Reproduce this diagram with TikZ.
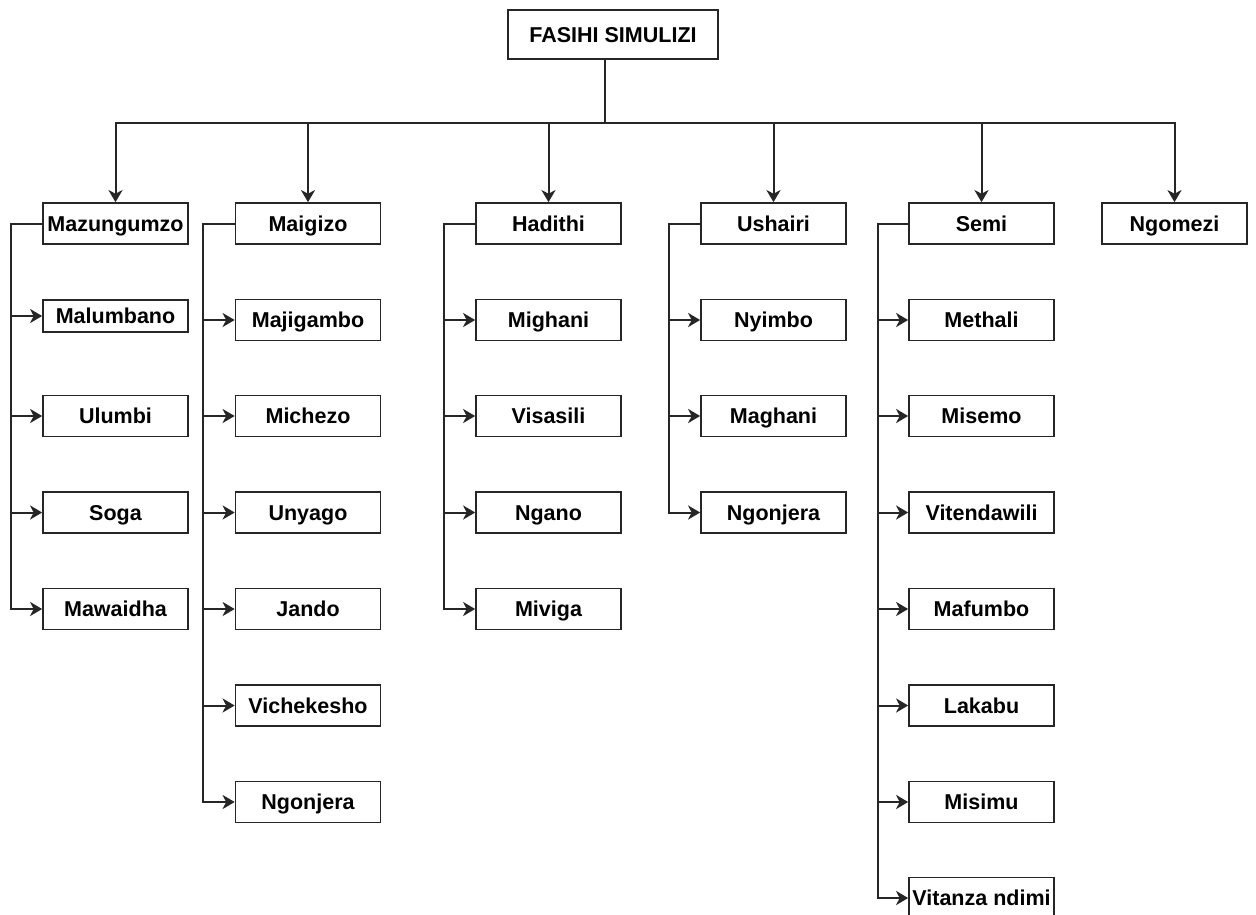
\documentclass[tikz,border=0pt]{standalone}
\usepackage{fontspec}
\setmainfont{Liberation Sans}
\usetikzlibrary{arrows.meta}

\begin{document}
\begin{tikzpicture}
	[	x=1pt,y=-1pt,
	box/.style={rectangle,draw=black!85,line width=1.7pt,minimum width=145pt,minimum height=41pt,inner sep=0pt,
		text height=15.5pt,text depth=0pt,font=\fontsize{21.5}{24}\selectfont\bfseries},
	link/.style={draw=black!85,line width=2pt},
	arr/.style={link,-{Stealth[length=12pt,width=14pt,inset=3.5pt]}}
	]
	\useasboundingbox (0,0) rectangle (1256,914);

	% top
	\node[box,minimum width=210pt,minimum height=49pt] (root) at (613,34.5) {FASIHI SIMULIZI};
	\coordinate (bus) at (605,123);

	\node[box] (maz) at (115.5,223.5) {Mazungumzo};
	\node[box] (maig) at (308,223.5) {Maigizo};
	\node[box] (had) at (548.5,223.5) {Hadithi};
	\node[box] (ush) at (773.5,223.5) {Ushairi};
	\node[box] (semi) at (981.5,223.5) {Semi};
	\node[box] (ngo) at (1174.5,223.5) {Ngomezi};

	\draw[link] (root.south -| bus) -- (bus);
	\draw[arr] (bus) -| (maz.north);
	\draw[arr] (bus) -| (maig.north);
	\draw[arr] (bus) -| (had.north);
	\draw[arr] (bus) -| (ush.north);
	\draw[arr] (bus) -| (semi.north);
	\draw[arr] (bus) -| (ngo.north);

	% Mazungumzo
	\coordinate (mazrail) at (11,223.5);
	\node[box,minimum height=32pt] (malu) at (115.5,316) {Malumbano};
	\node[box] (ulu) at (115.5,416) {Ulumbi};
	\node[box] (soga) at (115.5,512.5) {Soga};
	\node[box] (mawa) at (115.5,609) {Mawaidha};
	\draw[arr] (maz.west) -- (mazrail) |- (malu.west);
	\draw[arr] (mazrail) |- (ulu.west);
	\draw[arr] (mazrail) |- (soga.west);
	\draw[arr] (mazrail) |- (mawa.west);

	% Maigizo
	\coordinate (maigrail) at (203,223.5);
	\node[box] (maji) at (308,320) {Majigambo};
	\node[box] (miche) at (308,416) {Michezo};
	\node[box] (unya) at (308,512.5) {Unyago};
	\node[box] (jando) at (308,609) {Jando};
	\node[box] (viche) at (308,705.5) {Vichekesho};
	\node[box] (ngon) at (308,802) {Ngonjera};
	\draw[arr] (maig.west) -- (maigrail) |- (maji.west);
	\draw[arr] (maigrail) |- (miche.west);
	\draw[arr] (maigrail) |- (unya.west);
	\draw[arr] (maigrail) |- (jando.west);
	\draw[arr] (maigrail) |- (viche.west);
	\draw[arr] (maigrail) |- (ngon.west);

	% Hadithi
	\coordinate (hadrail) at (444,223.5);
	\node[box] (migh) at (548.5,320) {Mighani};
	\node[box] (visa) at (548.5,416) {Visasili};
	\node[box] (ngano) at (548.5,512.5) {Ngano};
	\node[box] (mivi) at (548.5,609) {Miviga};
	\draw[arr] (had.west) -- (hadrail) |- (migh.west);
	\draw[arr] (hadrail) |- (visa.west);
	\draw[arr] (hadrail) |- (ngano.west);
	\draw[arr] (hadrail) |- (mivi.west);

	% Ushairi
	\coordinate (ushrail) at (669,223.5);
	\node[box] (nyim) at (773.5,320) {Nyimbo};
	\node[box] (magh) at (773.5,416) {Maghani};
	\node[box] (ngonb) at (773.5,512.5) {Ngonjera};
	\draw[arr] (ush.west) -- (ushrail) |- (nyim.west);
	\draw[arr] (ushrail) |- (magh.west);
	\draw[arr] (ushrail) |- (ngonb.west);

	% Semi
	\coordinate (semirail) at (878,223.5);
	\node[box] (meth) at (981.5,320) {Methali};
	\node[box] (mise) at (981.5,416) {Misemo};
	\node[box] (vite) at (981.5,512.5) {Vitendawili};
	\node[box] (mafu) at (981.5,609) {Mafumbo};
	\node[box] (laka) at (981.5,705.5) {Lakabu};
	\node[box] (misi) at (981.5,802) {Misimu};
	\node[box] (vita) at (981.5,898) {Vitanza ndimi};
	\draw[arr] (semi.west) -- (semirail) |- (meth.west);
	\draw[arr] (semirail) |- (mise.west);
	\draw[arr] (semirail) |- (vite.west);
	\draw[arr] (semirail) |- (mafu.west);
	\draw[arr] (semirail) |- (laka.west);
	\draw[arr] (semirail) |- (misi.west);
	\draw[arr] (semirail) |- (vita.west);
\end{tikzpicture}
\end{document}
